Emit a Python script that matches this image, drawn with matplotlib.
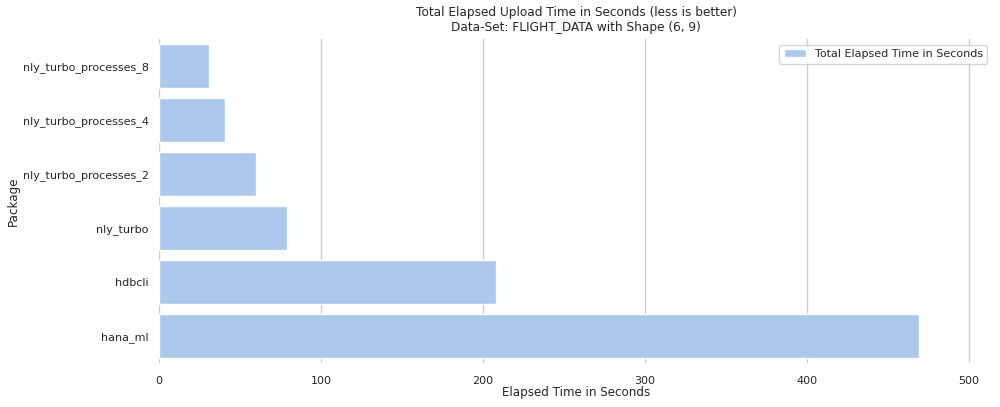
import matplotlib
matplotlib.use("Agg")
import matplotlib.pyplot as plt
import seaborn as sns
import pandas as pd

# values
packages = ["nly_turbo_processes_8", "nly_turbo_processes_4", "nly_turbo_processes_2",
            "nly_turbo", "hdbcli", "hana_ml"]
elapsed = [30.6, 40.5, 59.8, 79.0, 208.4, 469.0]

df = pd.DataFrame({"Package": packages, "Elapsed Time in Seconds": elapsed})

sns.set_theme(style="whitegrid")
plt.rcParams['font.family'] = ['DejaVu Sans']
sns.set_color_codes("pastel")

fig, ax = plt.subplots(figsize=(10, 4.07), dpi=100)
fig.subplots_adjust(left=0.159, right=0.993, top=0.904, bottom=0.108)

sns.barplot(data=df, x="Elapsed Time in Seconds", y="Package", color="b",
            label="Total Elapsed Time in Seconds", ax=ax)

ax.set_xlim(0, 515)
ax.set_xticks([0, 100, 200, 300, 400, 500])
ax.tick_params(labelsize=8, colors="#262626")
ax.tick_params(axis="y", pad=1.3)
ax.set_xlabel("Elapsed Time in Seconds", fontsize=8.6, color="#262626", labelpad=0)
ax.set_ylabel("Package", fontsize=8.6, color="#262626", labelpad=2)
ax.set_title("Total Elapsed Upload Time in Seconds (less is better)\nData-Set: FLIGHT_DATA with Shape (6, 9)",
             fontsize=8.7, color="#262626")
ax.legend(loc="upper right", fontsize=8, frameon=True)
sns.despine(left=True, bottom=True)

fig.savefig("out.png", dpi=100)
